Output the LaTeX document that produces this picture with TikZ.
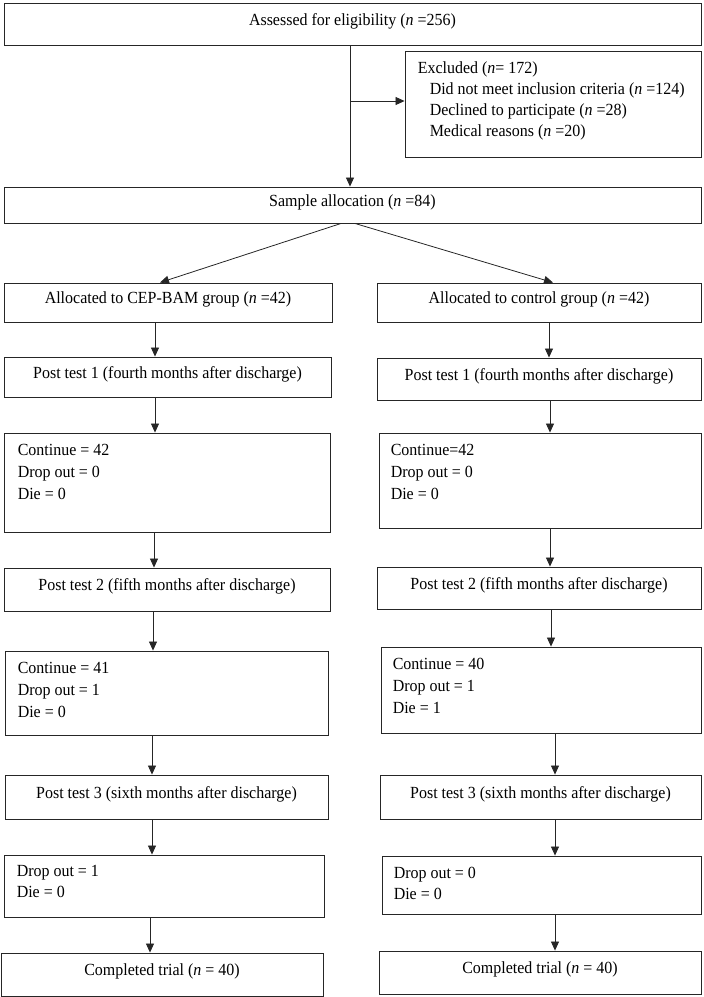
\documentclass[tikz,border=0pt]{standalone}
\usepackage{fontspec}
\setmainfont[FakeStretch=0.94]{Liberation Serif}
\usetikzlibrary{arrows.meta,calc}
\begin{document}
\begin{tikzpicture}[x=1pt,y=-1pt,
  box/.style={draw=black!85, line width=0.9pt, inner sep=0pt, text height=11pt, text depth=9pt, font=\fontsize{17}{21}\selectfont},
  txt/.style={anchor=north west, inner sep=0pt, align=left, font=\fontsize{17}{22}\selectfont},
  arr/.style={draw=black!85, line width=0.8pt, -{Triangle[length=9pt,width=8pt]}}]
\useasboundingbox (0,0) rectangle (704,997);
% top part
\node[box, minimum width=697pt, minimum height=42pt] (top) at (352.5,24) {Assessed for eligibility (\textit{n} =256)};
\node[box, minimum width=296pt, minimum height=106pt] (exc) at (553,104) {};
\node[txt, font=\fontsize{17}{21}\selectfont] (excT) at ($(exc.north west)+(13,11)$) {Excluded (\textit{n}= 172)\\\hspace*{12pt}Did not meet inclusion criteria (\textit{n} =124)\\\hspace*{12pt}Declined to participate (\textit{n} =28)\\\hspace*{12pt}Medical reasons (\textit{n} =20)};
\node[box, minimum width=697pt, minimum height=36pt] (samp) at (352.5,205) {Sample allocation (\textit{n} =84)};
% left column
\node[box, minimum width=328pt, minimum height=39pt] (alL) at (168,302.5) {Allocated to CEP-BAM group (\textit{n} =42)};
\node[box, minimum width=327pt, minimum height=40pt] (p1L) at (167.5,377) {Post test 1 (fourth months after discharge)};
\node[box, minimum width=326pt, minimum height=99pt] (cL) at (167,482.5) {};
\node[txt] (cLT) at ($(cL.north west)+(14,11)$) {Continue = 42\\Drop out = 0\\Die = 0};
\node[box, minimum width=326pt, minimum height=43pt] (p2L) at (167,589.5) {Post test 2 (fifth months after discharge)};
\node[box, minimum width=323pt, minimum height=84pt] (bL) at (166.5,693) {};
\node[txt] (bLT) at ($(bL.north west)+(13,11)$) {Continue = 41\\Drop out = 1\\Die = 0};
\node[box, minimum width=323pt, minimum height=44pt] (p3L) at (166.5,797) {Post test 3 (sixth months after discharge)};
\node[box, minimum width=320pt, minimum height=62pt] (dL) at (164,886) {};
\node[txt, font=\fontsize{17}{21}\selectfont] (dLT) at ($(dL.north west)+(13,11)$) {Drop out = 1\\Die = 0};
\node[box, minimum width=322pt, minimum height=43pt] (fL) at (162,974.5) {Completed trial (\textit{n} = 40)};
% right column
\node[box, minimum width=324pt, minimum height=39pt] (alR) at (539,302.5) {Allocated to control group (\textit{n} =42)};
\node[box, minimum width=324pt, minimum height=42pt] (p1R) at (539,379) {Post test 1 (fourth months after discharge)};
\node[box, minimum width=322pt, minimum height=95pt] (cR) at (540,480.5) {};
\node[txt] (cRT) at ($(cR.north west)+(12,11)$) {Continue=42\\Drop out = 0\\Die = 0};
\node[box, minimum width=324pt, minimum height=42pt] (p2R) at (539,588) {Post test 2 (fifth months after discharge)};
\node[box, minimum width=320pt, minimum height=86pt] (bR) at (541,690) {};
\node[txt] (bRT) at ($(bR.north west)+(12,11)$) {Continue = 40\\Drop out = 1\\Die = 1};
\node[box, minimum width=321pt, minimum height=44pt] (p3R) at (540.5,797) {Post test 3 (sixth months after discharge)};
\node[box, minimum width=319pt, minimum height=58pt] (dR) at (541.5,885) {};
\node[txt, font=\fontsize{17}{21}\selectfont] (dRT) at ($(dR.north west)+(12,11)$) {Drop out = 0\\Die = 0};
\node[box, minimum width=322pt, minimum height=43pt] (fR) at (540,972.5) {Completed trial (\textit{n} = 40)};
% connectors
\draw[arr] (top.south -| 350,0) -- (samp.north -| 350,0);
\coordinate (j) at (350,101);
\draw[arr] (j) -- (j -| exc.west);
\draw[arr] ([xshift=-11.5pt]samp.south) -- (alL.north -| 160,0);
\draw[arr] ([xshift=2.5pt]samp.south) -- (alR.north -| 553,0);
\draw[arr] (alL.south -| 155,0) -- (p1L.north -| 155,0);
\draw[arr] (p1L.south -| 155,0) -- (cL.north -| 155,0);
\draw[arr] (cL.south -| 154,0) -- (p2L.north -| 154,0);
\draw[arr] (p2L.south -| 153,0) -- (bL.north -| 153,0);
\draw[arr] (bL.south -| 152,0) -- (p3L.north -| 152,0);
\draw[arr] (p3L.south -| 152,0) -- (dL.north -| 152,0);
\draw[arr] (dL.south -| 150,0) -- (fL.north -| 150,0);
\draw[arr] (alR.south -| 549,0) -- (p1R.north -| 549,0);
\draw[arr] (p1R.south -| 550,0) -- (cR.north -| 550,0);
\draw[arr] (cR.south -| 550,0) -- (p2R.north -| 550,0);
\draw[arr] (p2R.south -| 551,0) -- (bR.north -| 551,0);
\draw[arr] (bR.south -| 555,0) -- (p3R.north -| 555,0);
\draw[arr] (p3R.south -| 555,0) -- (dR.north -| 555,0);
\draw[arr] (dR.south -| 555,0) -- (fR.north -| 555,0);
\end{tikzpicture}
\end{document}
